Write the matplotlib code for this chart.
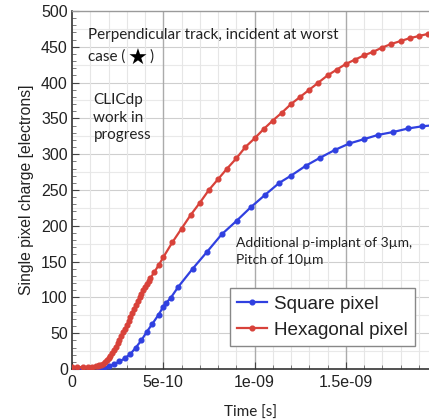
import matplotlib
matplotlib.use("Agg")
import matplotlib.pyplot as plt
from matplotlib.ticker import MultipleLocator, FixedLocator, FixedFormatter

# Collected charge vs. time for two pixel geometries (time in units of 1e-10 s)
t_square = [0.0, 0.5, 1.0, 1.5, 1.75, 2.0, 2.3, 2.6, 2.9, 3.2, 3.5, 3.8, 4.1,
            4.4, 4.75, 5.0, 5.15, 5.4, 5.83, 6.61, 7.41, 8.2, 9.02, 9.8, 10.57,
            11.36, 12.0, 12.82, 13.59, 14.41, 15.2, 16.0, 16.78, 17.6, 18.43,
            19.2, 20.0]
q_square = [0.0, 0.0, 0.2, 0.8, 1.8, 3.5, 6.5, 10.5, 15, 21, 30, 40, 52,
            63, 76, 87, 92, 99, 115, 140, 164, 188, 207, 226, 243,
            260, 270, 284, 295, 306, 315, 321, 327, 331, 336,
            339, 341]

t_hex = [0.0, 0.3, 0.6, 0.9, 1.1, 1.3, 1.4, 1.5, 1.6, 1.7, 1.8, 1.9, 2.0,
         2.1, 2.2, 2.3, 2.4, 2.5, 2.6, 2.7, 2.8, 2.9, 3.0, 3.1, 3.2, 3.3,
         3.4, 3.5, 3.6, 3.7, 3.8, 3.9, 4.0, 4.1, 4.2, 4.3, 4.5, 4.75, 5.0,
         5.5, 6.0, 6.5, 7.0, 7.5, 8.0, 8.5, 9.0, 9.5, 10.0, 10.5, 11.0,
         11.5, 12.0, 12.5, 13.0, 13.5, 14.0, 14.5, 15.0, 15.5, 16.0, 16.5,
         17.0, 17.5, 18.0, 18.5, 19.0, 19.5, 20.0]
q_hex = [2.5, 2.6, 2.7, 2.9, 3.1, 3.5, 4.0, 5.0, 6.0, 7.5, 9.5, 12, 15,
         18, 22, 26, 31, 36, 41, 46, 51, 56, 61, 67, 73, 78,
         84, 89, 95, 100, 105, 110, 115, 119, 123, 127, 135, 145, 156,
         177, 196, 215, 232, 250, 265, 280, 294, 310, 322, 335, 347,
         358, 370, 380, 390, 400, 410, 418, 426, 432, 438, 443,
         449, 454, 458, 462, 465, 468, 470]

x_ticks = [0, 5e-10, 1e-9, 1.5e-9]
x_tick_labels = ["0", "5e-10", "1e-09", "1.5e-09"]

BLUE = "#3040e0"
RED = "#d8423a"
TEXT = "#222222"

fig = plt.figure(figsize=(4.29, 4.19), dpi=100)
ax = fig.add_axes([72 / 429, 1 - 369 / 419, 1 - 72 / 429, (369 - 11) / 419])

ax.plot([t * 1e-10 for t in t_square], q_square, color=BLUE, lw=1.6,
        marker="o", ms=3.4, label="Square pixel", zorder=3)
ax.plot([t * 1e-10 for t in t_hex], q_hex, color=RED, lw=1.6,
        marker="o", ms=3.4, label="Hexagonal pixel", zorder=4)

ax.set_xlim(0, 357 / 1.825e11)
ax.set_ylim(0, 500)

ax.xaxis.set_major_locator(FixedLocator(x_ticks))
ax.xaxis.set_major_formatter(FixedFormatter(x_tick_labels))
ax.xaxis.set_minor_locator(MultipleLocator(1e-10))
ax.yaxis.set_major_locator(MultipleLocator(50))
ax.yaxis.set_minor_locator(MultipleLocator(10))

# grid: faint minor lines, stronger majors
for v in range(25, 500, 25):
    ax.axhline(v, color="#cfcfcf" if v % 50 == 0 else "#e9e9e9", lw=0.8, zorder=0)
for i in range(1, 20):
    ax.axvline(i * 1e-10, color="#ababab" if i % 5 == 0 else "#e6e6e6",
               lw=1.0 if i % 5 == 0 else 0.8, zorder=0)

ax.tick_params(axis="both", which="major", direction="in", length=5,
               width=0.8, labelsize=11.5, labelcolor=TEXT, color="#444444")
ax.tick_params(axis="both", which="minor", direction="in", length=3,
               width=0.6, color="#666666")
ax.tick_params(axis="y", pad=3)
ax.tick_params(axis="x", pad=4)
for lbl in ax.get_xticklabels() + ax.get_yticklabels():
    lbl.set_family("Liberation Sans")

for side in ("left", "bottom"):
    ax.spines[side].set_color("#333333")
    ax.spines[side].set_linewidth(1.2)
ax.spines["top"].set_color("#9a9a9a")
ax.spines["top"].set_linewidth(1.0)
ax.spines["right"].set_visible(False)

ax.set_ylabel("Single pixel charge [electrons]", fontsize=11.3,
              family="Liberation Sans", color=TEXT, labelpad=5)
ax.set_xlabel("Time [s]", fontsize=11, family="Lato", color=TEXT, labelpad=12)

fam = ["Lato", "DejaVu Sans"]
ax.text(0.045, 0.952, "Perpendicular track, incident at worst",
        transform=ax.transAxes, fontsize=11, family=fam, color=TEXT,
        va="top", ha="left")
ax.text(0.045, 0.893, "case (", transform=ax.transAxes, fontsize=11,
        family=fam, color=TEXT, va="top", ha="left")
ax.text(0.185, 0.893, "\u2605", transform=ax.transAxes, fontsize=16,
        family="DejaVu Sans", color="black", va="top", ha="center")
ax.text(0.216, 0.893, ")", transform=ax.transAxes, fontsize=11,
        family=fam, color=TEXT, va="top", ha="left")
ax.text(0.06, 0.77, "CLICdp\nwork in\nprogress", transform=ax.transAxes,
        fontsize=11, family=fam, color=TEXT, va="top", ha="left",
        linespacing=1.3)
ax.text(0.458, 0.37, "Additional p-implant of 3\u00b5m,\nPitch of 10\u00b5m",
        transform=ax.transAxes, fontsize=10, family=fam, color=TEXT,
        va="top", ha="left", linespacing=1.5)

leg = ax.legend(loc="lower right", bbox_to_anchor=(0.962, 0.064),
                prop={"family": "Liberation Sans", "size": 13.6},
                frameon=True, fancybox=False, edgecolor="#888888",
                framealpha=1.0, handlelength=1.55, handletextpad=0.4,
                borderpad=0.4, labelspacing=0.45, borderaxespad=0)
leg.get_frame().set_linewidth(1.0)
for t in leg.get_texts():
    t.set_color(TEXT)

fig.savefig("out.png", dpi=100)
